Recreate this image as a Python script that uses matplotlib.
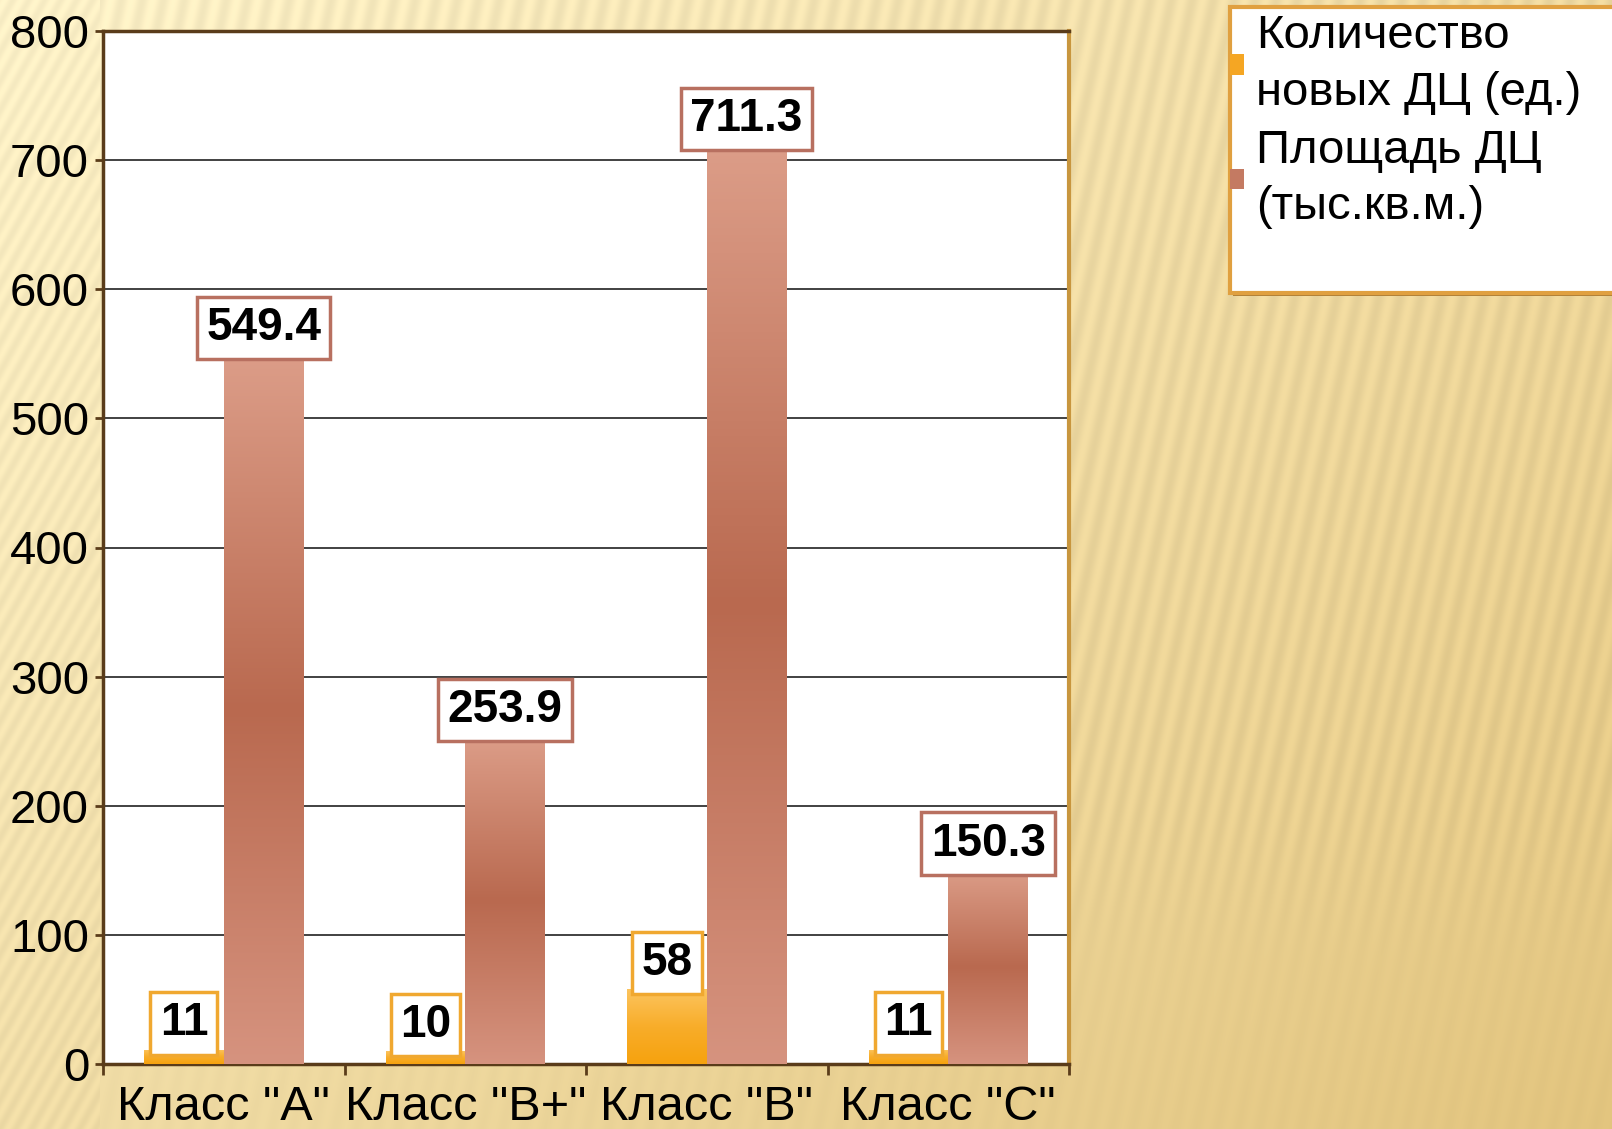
# -*- coding: utf-8 -*-
import numpy as np
import matplotlib
matplotlib.use("Agg")
import matplotlib.pyplot as plt
from matplotlib.colors import LinearSegmentedColormap, to_rgb
from matplotlib.patches import Rectangle

plt.rcParams['font.family'] = ['Liberation Sans', 'DejaVu Sans']

# data
categories = ['Класс "A"', 'Класс "B+"', 'Класс "B"', 'Класс "C"']
count_new = [11, 10, 58, 11]
area_new = [549.4, 253.9, 711.3, 150.3]
series_names = ['Количество\nновых ДЦ (ед.)', 'Площадь ДЦ\n(тыс.кв.м.)']
y_ticks = [0, 100, 200, 300, 400, 500, 600, 700, 800]

W, H = 1612, 1129
fig = plt.figure(figsize=(W / 100, H / 100), dpi=100)

# golden striped background
bg = fig.add_axes([0, 0, 1, 1], zorder=-10)
yy, xx = np.mgrid[0:H, 0:W].astype(float)
t = np.clip(0.55 * xx / W + 0.45 * yy / H, 0, 1)
light = np.array(to_rgb('#fcf1c8'))
dark = np.array(to_rgb('#e2c47e'))
img = light[None, None, :] * (1 - t[..., None]) + dark[None, None, :] * t[..., None]
stripes = np.sin(2 * np.pi * (xx + 0.22 * yy) / 21.0)
fade = np.clip((1010 - yy) / 200.0, 0.25, 1.0)
left = xx < 100
stripes_left = np.sin(2 * np.pi * (xx + 0.55 * yy) / 16.0)
s = np.where(left, stripes_left * 0.8, stripes * fade)
img = np.clip(img * (1 + 0.03 * s[..., None]), 0, 1)
bg.imshow(img, aspect='auto', extent=[0, 1, 0, 1])
bg.set_axis_off()

# main axes
ax = fig.add_axes([103 / W, 1 - 1064 / H, (1069 - 103) / W, (1064 - 31) / H])
ax.set_facecolor('white')

x = np.arange(len(categories))
width = 0.33
orange = '#f5a623'
brown = '#c47a62'
b1 = ax.bar(x - width / 2, count_new, width, color=orange, zorder=3, label=series_names[0])
b2 = ax.bar(x + width / 2, area_new, width, color=brown, zorder=3, label=series_names[1])

cmap_orange = LinearSegmentedColormap.from_list('o', ['#f6a20e', '#f8ad2a', '#fcc45e'])
cmap_brown = LinearSegmentedColormap.from_list('b', ['#d6937f', '#b9694f', '#dc9d88'])
grad = np.linspace(0, 1, 256).reshape(-1, 1)
for bars, cm in ((b1, cmap_orange), (b2, cmap_brown)):
    for p in bars:
        x0, y0 = p.get_x(), p.get_y()
        im = ax.imshow(grad, extent=[x0, x0 + p.get_width(), y0, y0 + p.get_height()],
                       origin='lower', aspect='auto', cmap=cm, zorder=3.5)
        im.set_clip_path(p)

# value labels
for bars, vals, ec, fmt in ((b1, count_new, '#f0a830', '{:d}'), (b2, area_new, '#b87060', '{:.1f}')):
    for p, v in zip(bars, vals):
        ax.annotate(fmt.format(v), (p.get_x() + p.get_width() / 2, v),
                    xytext=(0, 19), textcoords='offset points', ha='center', va='center',
                    fontsize=33, fontweight='bold', zorder=6,
                    bbox=dict(boxstyle='square,pad=0.2', fc='white', ec=ec, lw=2.5))

ax.set_xlim(-0.5, len(categories) - 0.5)
ax.set_ylim(0, 800)
ax.set_yticks(y_ticks)
ax.set_yticklabels([str(v) for v in y_ticks], fontsize=34)
ax.set_xticks(x)
ax.set_xticklabels(categories, fontsize=35)
ax.set_xticks(np.arange(-0.5, len(categories)), minor=True)
ax.tick_params(axis='x', which='major', length=0, pad=15)
ax.tick_params(axis='x', which='minor', length=8, width=2, color='#5a3c1a', direction='out')
ax.tick_params(axis='y', length=6, width=2, color='#5a3c1a', pad=4)
ax.yaxis.grid(True, color='#333333', lw=1.3, zorder=1)
ax.set_axisbelow(True)
for side in ('left', 'bottom', 'top'):
    ax.spines[side].set_color('#5a3c1a')
    ax.spines[side].set_linewidth(2.5)
ax.spines['right'].set_color('#c8963e')
ax.spines['right'].set_linewidth(3)

# legend frame
fig.patches.append(Rectangle((1233 / W, 1 - 296 / H), 0.3, 286 / H, transform=fig.transFigure,
                             fc='#b08038', ec='none', zorder=1))
fig.patches.append(Rectangle((1230 / W, 1 - 293 / H), 0.3, 286 / H, transform=fig.transFigure,
                             fc='white', ec='#e0a040', lw=3, zorder=2))
leg = fig.legend(handles=[b1, b2], labels=series_names, loc='upper left',
                 bbox_to_anchor=(1230 / W, 1 - 14 / H), frameon=False, fontsize=34,
                 handlelength=0.3, handleheight=0.3, handletextpad=0.25,
                 labelspacing=0.3, borderpad=0, borderaxespad=0)
leg.set_zorder(5)
for txt in leg.get_texts():
    txt.set_linespacing(1.37)

fig.savefig('out.png', dpi=100)
